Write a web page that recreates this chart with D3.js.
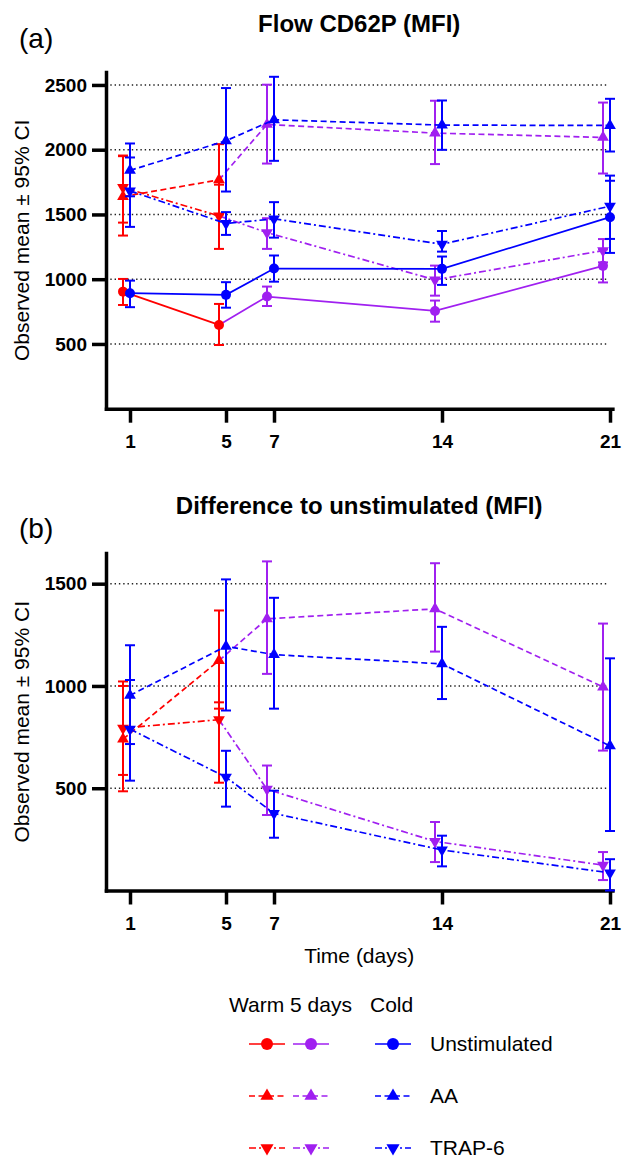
<!DOCTYPE html>
<html>
<head>
<meta charset="utf-8">
<script src="https://cdn.jsdelivr.net/npm/d3@7"></script>
<style>
  body { margin: 0; background: #fff; }
  svg text { font-family: "Liberation Sans", Arial, sans-serif; fill: #000; }
</style>
</head>
<body>
<svg id="chart" width="622" height="1159"></svg>
<script>
// ---------- data ----------
const days = [1, 5, 7, 14, 21];
const warmCount = 2;               // days 1 & 5 are "Warm", later days are "5 days"
const ticksA = [500, 1000, 1500, 2000, 2500];
const ticksB = [500, 1000, 1500];

// (a) Flow CD62P (MFI)
const aWarmUnst   = [904, 647, 866, 755, 1103];
const aWarmUnstLo = [801, 492, 793, 672, 975];
const aWarmUnstHi = [1002, 809, 943, 835, 1230];
const aWarmAA     = [1638, 1767, 2195, 2128, 2095];
const aWarmAALo   = [1337, 1500, 1893, 1889, 1816];
const aWarmAAHi   = [1950, 2043, 2502, 2378, 2364];
const aWarmTrap   = [1708, 1489, 1360, 995, 1221];
const aWarmTrapLo = [1437, 1234, 1234, 873, 1130];
const aWarmTrapHi = [1955, 1730, 1471, 1105, 1310];
const aColdUnst   = [892, 879, 1082, 1080, 1479];
const aColdUnstLo = [784, 780, 981, 956, 1203];
const aColdUnstHi = [989, 977, 1183, 1175, 1760];
const aColdAA     = [1840, 2069, 2231, 2190, 2187];
const aColdAALo   = [1640, 1677, 1914, 1999, 1986];
const aColdAAHi   = [2048, 2476, 2563, 2380, 2393];
const aColdTrap   = [1682, 1430, 1466, 1270, 1564];
const aColdTrapLo = [1404, 1342, 1321, 1213, 1311];
const aColdTrapHi = [1940, 1518, 1595, 1372, 1800];

// (b) Difference to unstimulated (MFI)
const bWarmAA     = [740, 1124, 1328, 1377, 995];
const bWarmAALo   = [485, 889, 1059, 1168, 684];
const bWarmAAHi   = [1000, 1369, 1609, 1600, 1305];
const bWarmTrap   = [794, 835, 495, 240, 124];
const bWarmTrapLo = [565, 527, 369, 139, 51];
const bWarmTrapHi = [1022, 920, 611, 335, 188];
const bColdAA     = [954, 1194, 1153, 1108, 707];
const bColdAALo   = [716, 880, 889, 936, 291];
const bColdAAHi   = [1199, 1521, 1431, 1289, 1135];
const bColdTrap   = [789, 554, 377, 198, 86];
const bColdTrapLo = [537, 410, 258, 118, 0];
const bColdTrapHi = [1029, 683, 488, 268, 153];

const legendRows = ['Unstimulated', 'AA', 'TRAP-6'];

// ---------- styles ----------
const colRed = '#ff0000', colPurple = '#a020f0', colBlue = '#0000ff';
const dashAA = '6,3.5', dashTrap = '7,3,2,3';
const font = '"Liberation Sans", Arial, sans-serif';

const svg = d3.select('#chart');
const x = d3.scaleLinear().domain([0, 21.1]).range([106, 612.4]);

function drawMarker(g, shape, cx, cy, color, big) {
  if (shape === 'circle') {
    g.append('circle').attr('cx', cx).attr('cy', cy).attr('r', big ? 6 : 5).attr('fill', color);
  } else {
    g.append('path')
      .attr('d', d3.symbol().type(d3.symbolTriangle).size(big ? 75 : 60)())
      .attr('transform', `translate(${cx},${cy})` + (shape === 'down' ? ' rotate(180)' : ''))
      .attr('fill', color);
  }
}

function drawSeries(g, y, s) {
  const idx = d3.range(days.length);
  const shift = s.warm ? -7 : 0;
  const px = i => x(days[i]) + shift;
  const col = i => s.warm ? (i < warmCount ? colRed : colPurple) : colBlue;
  const line = d3.line().x(i => px(i)).y(i => y(s.mean[i]));

  const segs = s.warm
    ? [[idx.slice(0, warmCount), colRed], [idx.slice(warmCount - 1), colPurple]]
    : [[idx, colBlue]];
  segs.forEach(([ids, c]) => {
    g.append('path').attr('d', line(ids))
      .attr('fill', 'none').attr('stroke', c).attr('stroke-width', 1.7)
      .attr('stroke-dasharray', s.dash);
  });

  idx.forEach(i => {
    const eb = g.append('g').attr('stroke', col(i)).attr('stroke-width', 2);
    eb.append('line').attr('x1', px(i)).attr('x2', px(i)).attr('y1', y(s.lo[i])).attr('y2', y(s.hi[i]));
    eb.append('line').attr('x1', px(i) - 5).attr('x2', px(i) + 5).attr('y1', y(s.lo[i])).attr('y2', y(s.lo[i]));
    eb.append('line').attr('x1', px(i) - 5).attr('x2', px(i) + 5).attr('y1', y(s.hi[i])).attr('y2', y(s.hi[i]));
  });

  idx.forEach(i => drawMarker(g, s.shape, px(i), y(s.mean[i]), col(i), false));
}

function drawPanel(p) {
  const y = d3.scaleLinear().domain(p.yDomain).range(p.yRange);
  const g = svg.append('g');
  const midX = (x.range()[0] + x.range()[1]) / 2;

  g.append('text').attr('x', midX).attr('y', p.titleY)
    .attr('text-anchor', 'middle').attr('font-size', 24).attr('font-weight', 'bold').text(p.title);
  g.append('text').attr('x', 19).attr('y', p.tagY).attr('font-size', 28).text(p.tag);

  // dotted gridlines
  g.append('g').selectAll('line').data(p.ticks).join('line')
    .attr('x1', x(0)).attr('x2', x(20.9))
    .attr('y1', d => y(d)).attr('y2', d => y(d))
    .attr('stroke', '#222').attr('stroke-width', 1.4).attr('stroke-dasharray', '1.4,2.9');

  const yAxis = g.append('g').attr('transform', `translate(${x(0)},0)`)
    .call(d3.axisLeft(y).tickValues(p.ticks).tickFormat(d3.format('d'))
      .tickSize(14).tickSizeOuter(0).tickPadding(5));
  const xAxis = g.append('g').attr('transform', `translate(0,${y(0)})`)
    .call(d3.axisBottom(x).tickValues(days).tickFormat(d3.format('d'))
      .tickSize(14).tickSizeOuter(0).tickPadding(12));
  [yAxis, xAxis].forEach(a => {
    a.attr('font-family', font).attr('font-size', 19).attr('font-weight', 'bold');
    a.select('.domain').attr('stroke', '#000').attr('stroke-width', 3.5).attr('stroke-linecap', 'square');
    a.selectAll('.tick line').attr('stroke', '#000').attr('stroke-width', 3.5);
    a.selectAll('.tick text').attr('fill', '#000');
  });

  g.append('text')
    .attr('transform', `translate(29,${(p.yRange[0] + p.yRange[1]) / 2}) rotate(-90)`)
    .attr('text-anchor', 'middle').attr('font-size', 21).text('Observed mean ± 95% CI');

  if (p.xLabel) {
    g.append('text').attr('x', midX).attr('y', p.xLabelY)
      .attr('text-anchor', 'middle').attr('font-size', 21).text(p.xLabel);
  }

  p.series.forEach(s => drawSeries(g, y, s));
}

drawPanel({
  title: 'Flow CD62P (MFI)', titleY: 32, tag: '(a)', tagY: 48,
  yDomain: [0, 2600], yRange: [408.7, 72], ticks: ticksA,
  series: [
    {warm: true, shape: 'circle', dash: null, mean: aWarmUnst, lo: aWarmUnstLo, hi: aWarmUnstHi},
    {warm: true, shape: 'up', dash: dashAA, mean: aWarmAA, lo: aWarmAALo, hi: aWarmAAHi},
    {warm: true, shape: 'down', dash: dashTrap, mean: aWarmTrap, lo: aWarmTrapLo, hi: aWarmTrapHi},
    {warm: false, shape: 'circle', dash: null, mean: aColdUnst, lo: aColdUnstLo, hi: aColdUnstHi},
    {warm: false, shape: 'up', dash: dashAA, mean: aColdAA, lo: aColdAALo, hi: aColdAAHi},
    {warm: false, shape: 'down', dash: dashTrap, mean: aColdTrap, lo: aColdTrapLo, hi: aColdTrapHi}
  ]
});

drawPanel({
  title: 'Difference to unstimulated (MFI)', titleY: 514, tag: '(b)', tagY: 538,
  yDomain: [0, 1650], yRange: [890.5, 553], ticks: ticksB,
  xLabel: 'Time (days)', xLabelY: 963,
  series: [
    {warm: true, shape: 'up', dash: dashAA, mean: bWarmAA, lo: bWarmAALo, hi: bWarmAAHi},
    {warm: true, shape: 'down', dash: dashTrap, mean: bWarmTrap, lo: bWarmTrapLo, hi: bWarmTrapHi},
    {warm: false, shape: 'up', dash: dashAA, mean: bColdAA, lo: bColdAALo, hi: bColdAAHi},
    {warm: false, shape: 'down', dash: dashTrap, mean: bColdTrap, lo: bColdTrapLo, hi: bColdTrapHi}
  ]
});

// ---------- legend ----------
const leg = svg.append('g');
leg.append('text').attr('x', 229).attr('y', 1012).attr('font-size', 21).text('Warm 5 days');
leg.append('text').attr('x', 370).attr('y', 1012).attr('font-size', 21).text('Cold');

const legCols = [[249, 285, colRed], [293, 329, colPurple], [375, 411, colBlue]];
const legShapes = ['circle', 'up', 'down'];
const legDashes = [null, dashAA, dashTrap];
legendRows.forEach((label, r) => {
  const cy = 1044 + r * 52;
  legCols.forEach(([x1, x2, c]) => {
    leg.append('line').attr('x1', x1).attr('x2', x2).attr('y1', cy).attr('y2', cy)
      .attr('stroke', c).attr('stroke-width', 1.7).attr('stroke-dasharray', legDashes[r]);
    drawMarker(leg, legShapes[r], (x1 + x2) / 2, cy, c, true);
  });
  leg.append('text').attr('x', 430).attr('y', cy + 7).attr('font-size', 21).text(label);
});
</script>
</body>
</html>
